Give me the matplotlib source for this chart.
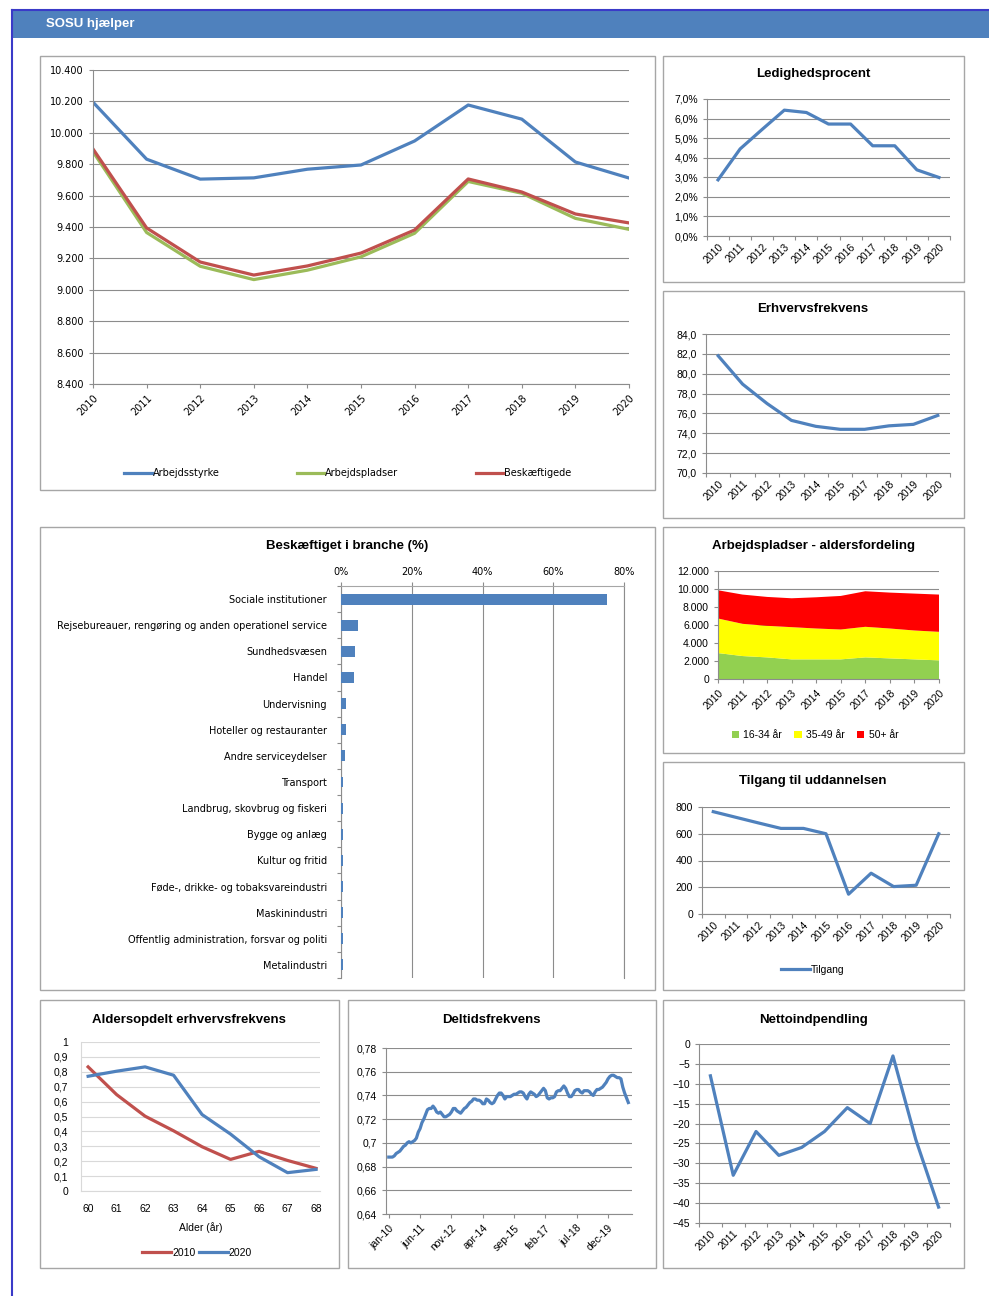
import numpy as np
import matplotlib
matplotlib.use('Agg')
import matplotlib.pyplot as plt
from matplotlib.patches import Rectangle, Patch
from matplotlib.lines import Line2D
from matplotlib.ticker import FuncFormatter

plt.rcParams['font.family'] = ['Liberation Sans', 'DejaVu Sans']

# ---- data ----
aar = ['2010', '2011', '2012', '2013', '2014', '2015', '2016', '2017', '2018', '2019', '2020']
# 2016 mangler i to af graferne
aar_u2016 = ['2010', '2011', '2012', '2013', '2014', '2015', '2017', '2018', '2019', '2020']

arbejdsstyrke = [10195, 9832, 9705, 9713, 9768, 9795, 9948, 10177, 10087, 9814, 9712]
arbejdspladser = [9880, 9365, 9150, 9065, 9125, 9210, 9360, 9690, 9615, 9455, 9385]
beskaeftigede = [9897, 9394, 9177, 9094, 9152, 9234, 9381, 9706, 9623, 9483, 9426]

ledighed = [2.87, 4.45, 5.45, 6.43, 6.31, 5.72, 5.72, 4.61, 4.61, 3.38, 2.99]
erhvervsfrekvens = [81.8, 78.95, 77.0, 75.3, 74.7, 74.4, 74.4, 74.75, 74.9, 75.8]

brancher = ['Sociale institutioner',
            'Rejsebureauer, rengøring og anden operationel service',
            'Sundhedsvæsen', 'Handel', 'Undervisning', 'Hoteller og restauranter',
            'Andre serviceydelser', 'Transport', 'Landbrug, skovbrug og fiskeri',
            'Bygge og anlæg', 'Kultur og fritid', 'Føde-, drikke- og tobaksvareindustri',
            'Maskinindustri', 'Offentlig administration, forsvar og politi', 'Metalindustri']
branche_pct = [75.2, 4.9, 4.0, 3.6, 1.4, 1.4, 1.0, 0.7, 0.5, 0.5, 0.5, 0.5, 0.5, 0.5, 0.5]

alder_16_34 = [2880, 2550, 2400, 2180, 2180, 2180, 2400, 2290, 2180, 2070]
alder_35_49 = [3840, 3580, 3510, 3580, 3430, 3320, 3400, 3320, 3210, 3170]
alder_50 = [3140, 3250, 3210, 3210, 3470, 3730, 3950, 3990, 4100, 4140]
alder_labels = ['16-34 år', '35-49 år', '50+ år']

tilgang = [765, 723, 681, 640, 640, 600, 148, 305, 205, 215, 600]

alder = [60, 61, 62, 63, 64, 65, 66, 67, 68]
erhv_2010 = [0.833, 0.647, 0.502, 0.404, 0.297, 0.212, 0.266, 0.205, 0.152]
erhv_2020 = [0.770, 0.804, 0.833, 0.777, 0.513, 0.382, 0.230, 0.123, 0.145]

# maanedlige vaerdier fra jan-10
deltid = [0.688, 0.688, 0.688, 0.689, 0.691, 0.692, 0.693, 0.695, 0.697, 0.698,
          0.700, 0.701, 0.700, 0.701, 0.702, 0.704, 0.709, 0.712, 0.717, 0.720,
          0.724, 0.728, 0.729, 0.729, 0.731, 0.729, 0.726, 0.725, 0.726, 0.724,
          0.722, 0.722, 0.723, 0.724, 0.726, 0.729, 0.729, 0.727, 0.726, 0.725,
          0.727, 0.729, 0.730, 0.732, 0.734, 0.735, 0.737, 0.737, 0.736, 0.736,
          0.735, 0.733, 0.733, 0.737, 0.736, 0.734, 0.733, 0.734, 0.737, 0.740,
          0.742, 0.742, 0.740, 0.737, 0.739, 0.739, 0.739, 0.740, 0.741, 0.741,
          0.742, 0.743, 0.743, 0.742, 0.739, 0.737, 0.741, 0.743, 0.742, 0.741,
          0.739, 0.740, 0.742, 0.744, 0.746, 0.744, 0.738, 0.737, 0.738, 0.738,
          0.739, 0.743, 0.744, 0.744, 0.746, 0.748, 0.746, 0.742, 0.739, 0.739,
          0.741, 0.744, 0.745, 0.745, 0.743, 0.742, 0.744, 0.744, 0.744, 0.743,
          0.741, 0.740, 0.743, 0.745, 0.745, 0.746, 0.747, 0.749, 0.751, 0.754,
          0.756, 0.757, 0.757, 0.756, 0.755, 0.755, 0.754, 0.747, 0.742, 0.738,
          0.734]
deltid_ticklabels = ['jan-10', 'jun-11', 'nov-12', 'apr-14', 'sep-15', 'feb-17', 'jul-18', 'dec-19']

netto = [-8, -33, -22, -28, -26, -22, -16, -20, -3, -24, -41]

# ---- farver ----
blaa = '#4F81BD'
roed = '#C0504D'
groen = '#9BBB59'
grid = '#8C8C8C'
kant = '#A6A6A6'

W, H = 989, 1296
fig = plt.figure(figsize=(W / 100, H / 100), dpi=100)


def px_axes(x0, y0, x1, y1):
    a = fig.add_axes([x0 / W, 1 - y1 / H, (x1 - x0) / W, (y1 - y0) / H])
    a.patch.set_alpha(0)
    return a


def panel(x0, y0, x1, y1):
    fig.patches.append(Rectangle((x0 / W, 1 - y1 / H), (x1 - x0) / W, (y1 - y0) / H,
                                 transform=fig.transFigure, fc='white', ec=kant, lw=1, zorder=-2))


def titel(x, y, s, size=9.5):
    fig.text(x / W, 1 - y / H, s, ha='center', va='center', fontsize=size, fontweight='bold')


def basis(ax, gridfarve=grid, size=7.5):
    ax.spines['top'].set_visible(False)
    ax.spines['right'].set_visible(False)
    ax.spines['left'].set_color(grid)
    ax.spines['bottom'].set_color(grid)
    ax.yaxis.grid(True, color=gridfarve, lw=0.8)
    ax.set_axisbelow(True)
    ax.tick_params(colors=grid, labelcolor='black', labelsize=size, length=3, width=0.8)


def kategori_akse(ax, labels, size=7.5):
    n = len(labels)
    ax.set_xlim(-0.5, n - 0.5)
    ax.set_xticks(np.arange(n + 1) - 0.5)
    ax.set_xticklabels([])
    ax.set_xticks(np.arange(n), minor=True)
    ax.set_xticklabels(labels, minor=True, rotation=45, ha='right', rotation_mode='anchor', fontsize=size)
    ax.tick_params(axis='x', which='minor', length=0, pad=4)


# ---- header ----
fig.patches.append(Rectangle((12 / W, 1 - 38 / H), (W - 12) / W, 28 / H, transform=fig.transFigure,
                             fc='#4F81BD', ec='none', zorder=-2))
fig.lines.append(Line2D([12 / W, 1], [1 - 10 / H, 1 - 10 / H], transform=fig.transFigure, color='#3A3AC8', lw=1.5))
fig.lines.append(Line2D([12 / W, 12 / W], [0, 1 - 10 / H], transform=fig.transFigure, color='#3A3AC8', lw=1.5))
fig.text(46 / W, 1 - 24 / H, 'SOSU hjælper', color='white', fontsize=9.5, fontweight='bold', va='center')

for p in [(40, 56, 655, 490), (663, 56, 964, 282), (663, 291, 964, 518), (40, 527, 655, 990),
          (663, 527, 964, 753), (663, 762, 964, 990), (40, 1000, 339, 1268), (348, 1000, 656, 1268),
          (663, 1000, 964, 1268)]:
    panel(*p)

# ---- hovedgraf ----
ax = px_axes(93, 70, 629, 384)
basis(ax, size=7)
x = np.arange(len(aar))
ax.plot(x, arbejdsstyrke, color=blaa, lw=2.3, label='Arbejdsstyrke')
ax.plot(x, arbejdspladser, color=groen, lw=2.3, label='Arbejdspladser')
ax.plot(x, beskaeftigede, color=roed, lw=2.3, label='Beskæftigede')
ax.set_xlim(0, len(aar) - 1)
ax.set_ylim(8400, 10400)
ax.set_yticks(np.arange(8400, 10401, 200))
ax.yaxis.set_major_formatter(FuncFormatter(lambda v, p: f'{int(v):,}'.replace(',', '.')))
ax.set_xticks(x)
ax.set_xticklabels(aar, rotation=45, ha='right', rotation_mode='anchor')
for t in ax.get_xticklabels() + ax.get_yticklabels():
    t.set_family('DejaVu Sans')
    t.set_fontsize(7)
h, l = ax.get_legend_handles_labels()
fig.legend(h, l, loc='center', bbox_to_anchor=(348 / W, 1 - 473 / H), ncol=3, frameon=False,
           prop={'family': 'DejaVu Sans', 'size': 7}, handlelength=2.8, handletextpad=0.1, columnspacing=8)

# ---- ledighedsprocent ----
titel(813, 74, 'Ledighedsprocent')
ax = px_axes(707, 99, 950, 236)
basis(ax)
ax.plot(np.arange(len(aar)), ledighed, color=blaa, lw=2.3)
kategori_akse(ax, aar)
ax.set_ylim(0, 7)
ax.set_yticks(np.arange(0, 7.1, 1))
ax.yaxis.set_major_formatter(FuncFormatter(lambda v, p: f'{v:.1f}%'.replace('.', ',')))

# ---- erhvervsfrekvens ----
titel(813, 309, 'Erhvervsfrekvens')
ax = px_axes(706, 334, 950, 473)
basis(ax)
ax.plot(np.arange(len(aar_u2016)), erhvervsfrekvens, color=blaa, lw=2.3)
kategori_akse(ax, aar_u2016)
ax.set_ylim(70, 84)
ax.set_yticks(np.arange(70, 84.1, 2))
ax.yaxis.set_major_formatter(FuncFormatter(lambda v, p: f'{v:.1f}'.replace('.', ',')))

# ---- beskaeftiget i branche ----
titel(347, 546, 'Beskæftiget i branche (%)')
ax = px_axes(341, 586, 624, 978)
y = np.arange(len(brancher))
ax.barh(y, branche_pct, height=0.42, color=blaa, zorder=3)
ax.set_xlim(0, 80)
ax.set_ylim(len(brancher) - 0.5, -0.5)
ax.xaxis.tick_top()
ax.set_xticks([0, 20, 40, 60, 80])
ax.set_xticklabels(['0%', '20%', '40%', '60%', '80%'], family='DejaVu Sans', fontsize=7)
ax.xaxis.grid(True, color=grid, lw=0.8)
ax.set_axisbelow(True)
ax.spines['bottom'].set_visible(False)
ax.spines['right'].set_color(grid)
ax.spines['top'].set_color(kant)
ax.spines['left'].set_color(grid)
ax.set_yticks(np.arange(len(brancher) + 1) - 0.5)
ax.set_yticklabels([])
ax.set_yticks(y, minor=True)
ax.set_yticklabels(brancher, minor=True, family='DejaVu Sans', fontsize=7)
ax.tick_params(axis='y', which='minor', length=0, pad=10)
ax.tick_params(axis='y', which='major', right=False)
ax.tick_params(colors=grid, labelcolor='black', length=3, width=0.8)

# ---- aldersfordeling ----
titel(813, 546, 'Arbejdspladser - aldersfordeling')
ax = px_axes(718, 571, 939, 679)
basis(ax)
x = np.arange(len(aar_u2016))
ax.stackplot(x, alder_16_34, alder_35_49, alder_50, colors=['#92D050', '#FFFF00', '#FF0000'], labels=alder_labels)
ax.set_xlim(0, len(aar_u2016) - 1)
ax.set_ylim(0, 12000)
ax.set_yticks(np.arange(0, 12001, 2000))
ax.yaxis.set_major_formatter(FuncFormatter(lambda v, p: f'{int(v):,}'.replace(',', '.')))
ax.set_xticks(x)
ax.set_xticklabels(aar_u2016, rotation=45, ha='right', rotation_mode='anchor')
h, l = ax.get_legend_handles_labels()
fig.legend(h, l, loc='center', bbox_to_anchor=(815 / W, 1 - 735 / H), ncol=3, frameon=False,
           fontsize=7.5, handlelength=0.7, handleheight=0.7, handletextpad=0.4, columnspacing=1.2)

# ---- tilgang ----
titel(813, 781, 'Tilgang til uddannelsen')
ax = px_axes(702, 807, 950, 914)
basis(ax)
ax.plot(np.arange(len(aar)), tilgang, color=blaa, lw=2.3, label='Tilgang')
kategori_akse(ax, aar)
ax.set_ylim(0, 800)
ax.set_yticks(np.arange(0, 801, 200))
h, l = ax.get_legend_handles_labels()
fig.legend(h, l, loc='center', bbox_to_anchor=(813 / W, 1 - 970 / H), frameon=False,
           fontsize=7.5, handlelength=2.8, handletextpad=0.1)

# ---- aldersopdelt erhvervsfrekvens ----
titel(189, 1020, 'Aldersopdelt erhvervsfrekvens')
ax = px_axes(81, 1042, 320, 1191)
basis(ax, gridfarve='#D9D9D9')
for s in ['left', 'bottom']:
    ax.spines[s].set_color('#D9D9D9')
ax.plot(alder, erhv_2010, color=roed, lw=2.3, label='2010')
ax.plot(alder, erhv_2020, color=blaa, lw=2.3, label='2020')
ax.set_xlim(59.75, 68.14)
ax.set_ylim(0, 1)
ax.set_xticks(alder)
ax.set_yticks(np.arange(0, 1.01, 0.1))
ax.yaxis.set_major_formatter(FuncFormatter(lambda v, p: f'{round(v, 1):g}'.replace('.', ',')))
ax.tick_params(length=0, pad=9)
ax.set_xlabel('Alder (år)', fontsize=7.5, labelpad=6)
h, l = ax.get_legend_handles_labels()
fig.legend(h, l, loc='center', bbox_to_anchor=(197 / W, 1 - 1253 / H), ncol=2, frameon=False,
           fontsize=7.5, handlelength=2.8, handletextpad=0.1, columnspacing=0.3)

# ---- deltidsfrekvens ----
titel(491, 1020, 'Deltidsfrekvens')
ax = px_axes(386, 1048, 632, 1214)
basis(ax)
m = np.arange(len(deltid))
ax.plot(m, deltid, color=blaa, lw=2.3)
ax.set_xlim(-1.5, 132)
ax.set_ylim(0.64, 0.78)
ax.set_yticks(np.arange(0.64, 0.781, 0.02))
ax.yaxis.set_major_formatter(FuncFormatter(lambda v, p: f'{round(v, 2):g}'.replace('.', ',')))
ax.set_xticks(np.arange(len(deltid_ticklabels)) * 17)
ax.set_xticklabels(deltid_ticklabels, rotation=45, ha='right', rotation_mode='anchor')

# ---- nettoindpendling ----
titel(813, 1020, 'Nettoindpendling')
ax = px_axes(699, 1044, 950, 1223)
basis(ax)
ax.plot(np.arange(len(aar)), netto, color=blaa, lw=2.3)
kategori_akse(ax, aar)
ax.set_ylim(-45, 0)
ax.set_yticks(np.arange(-45, 1, 5))

fig.savefig('out.png', dpi=100, facecolor='white')
